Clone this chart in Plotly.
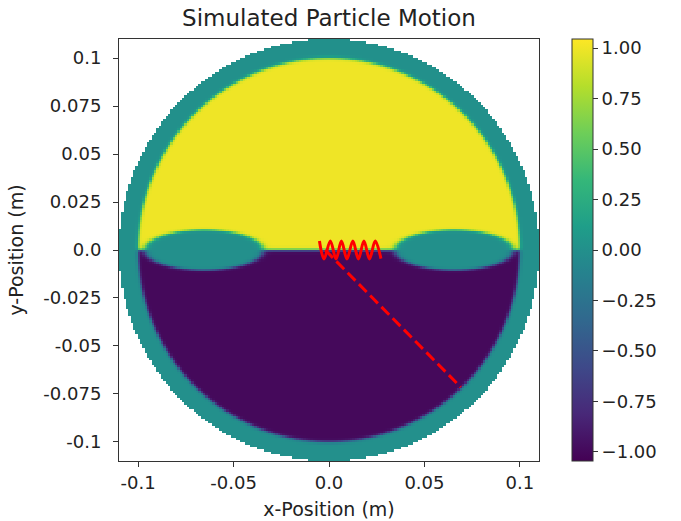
import numpy as np
import plotly.graph_objects as go

# ---- geometry of the simulated field (metres) ----
outer_radius = 0.11
inner_radius = 0.10
ellipse_centers_x = [-0.0655, 0.0655]
ellipse_semi_x = 0.031
ellipse_semi_y = 0.0105
upper_value = 1.0
lower_value = -1.0
n_cells = 180

# ---- particle trajectory (solid red) ----
path_x = [-0.0050, -0.0026, 0.0007, 0.0037, 0.0065, 0.0094, 0.0125, 0.0154,
          0.0183, 0.0212, 0.0242, 0.0272]
path_y = [0.0047, -0.0047, 0.0047, -0.0047, 0.0047, -0.0047, 0.0047, -0.0047,
          0.0047, -0.0047, 0.0047, -0.0045]

# ---- direction line (dashed red) ----
dir_x = [-0.0020, 0.0690]
dir_y = [0.0000, -0.0715]

# ---- tick labels ----
x_ticks = [-0.1, -0.05, 0.0, 0.05, 0.1]
x_ticktext = ["-0.1", "-0.05", "0.0", "0.05", "0.1"]
y_ticks = [0.1, 0.075, 0.05, 0.025, 0.0, -0.025, -0.05, -0.075, -0.1]
y_ticktext = ["0.1", "0.075", "0.05", "0.025", "0.0", "-0.025", "-0.05", "-0.075", "-0.1"]
cb_ticks = [1.0, 0.75, 0.5, 0.25, 0.0, -0.25, -0.5, -0.75, -1.0]
cb_ticktext = ["1.00", "0.75", "0.50", "0.25", "0.00", "\u22120.25", "\u22120.50", "\u22120.75", "\u22121.00"]

# ---- build field on grid ----
h = 2 * outer_radius / n_cells
gx = np.linspace(-outer_radius + h / 2, outer_radius - h / 2, n_cells)
gy = gx.copy()
X, Y = np.meshgrid(gx, gy)
R = np.sqrt(X ** 2 + Y ** 2)
w = 0.0008
halves = 0.5 * (upper_value - lower_value) * np.tanh(Y / w) + 0.5 * (upper_value + lower_value)
inside = 0.5 * (1 - np.tanh((R - inner_radius) / w))
ell = np.ones_like(X)
for cx in ellipse_centers_x:
    e = np.sqrt(((X - cx) / ellipse_semi_x) ** 2 + (Y / ellipse_semi_y) ** 2)
    ell *= 0.5 * (1 + np.tanh((e - 1) / 0.06))
Z = halves * inside * ell
Z[R > outer_radius] = np.nan

font = "DejaVu Sans"
txt = "#222222"

fig = go.Figure()
fig.add_trace(go.Heatmap(
    x=gx, y=gy, z=Z, colorscale="Viridis", zmin=-1.045, zmax=1.045,
    hoverinfo="skip",
    colorbar=dict(
        thickness=21, thicknessmode="pixels", len=422, lenmode="pixels",
        x=(572 - 119) / 420, xanchor="left", xpad=0,
        y=0.5, yanchor="middle", ypad=0,
        outlinewidth=1, outlinecolor="#333333",
        tickvals=cb_ticks, ticktext=cb_ticktext, ticks="outside", ticklen=5,
        tickcolor="#333333", tickfont=dict(family=font, size=18, color=txt),
    ),
))
fig.add_trace(go.Scatter(
    x=dir_x, y=dir_y, mode="lines",
    line=dict(color="red", width=3, dash="11px,5px"), hoverinfo="skip",
))
fig.add_trace(go.Scatter(
    x=path_x, y=path_y, mode="lines",
    line=dict(color="red", width=3, shape="spline", smoothing=1.0), hoverinfo="skip",
))

fig.update_layout(
    width=681, height=521,
    margin=dict(l=119, r=142, t=39, b=60, autoexpand=False),
    paper_bgcolor="white", plot_bgcolor="white",
    showlegend=False,
    title=dict(text="Simulated Particle Motion", x=0.5, xref="paper", xanchor="center",
               y=1 - 18 / 521, yref="container", yanchor="middle",
               font=dict(family=font, size=23, color=txt)),
    font=dict(family=font, color=txt),
)
fig.update_xaxes(
    range=[-0.11, 0.11], tickvals=x_ticks, ticktext=x_ticktext,
    ticks="outside", ticklen=5, tickcolor="#333333",
    showline=True, mirror=True, linecolor="#333333", linewidth=1,
    showgrid=False, zeroline=False,
    tickfont=dict(family=font, size=18, color=txt),
    title=dict(text="x-Position (m)", font=dict(family=font, size=19, color=txt), standoff=11),
)
fig.update_yaxes(
    range=[-0.11, 0.11], tickvals=y_ticks, ticktext=y_ticktext,
    ticks="outside", ticklen=5, tickcolor="#333333", ticklabelstandoff=8,
    showline=True, mirror=True, linecolor="#333333", linewidth=1,
    showgrid=False, zeroline=False,
    tickfont=dict(family=font, size=18, color=txt),
    title=dict(text="y-Position (m)", font=dict(family=font, size=19, color=txt), standoff=14),
)

fig.write_html("out.html", config={"displayModeBar": False},
               post_script="document.body.style.margin='0px';")
